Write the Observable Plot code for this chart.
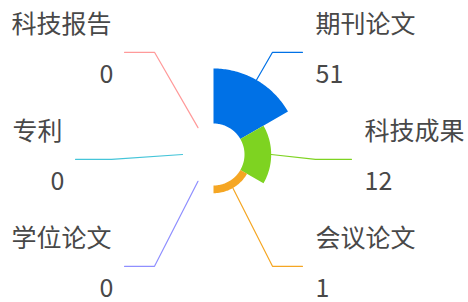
<!DOCTYPE html>
<html><head><meta charset="utf-8">
<script src="https://cdn.jsdelivr.net/npm/d3@7"></script>
<script src="https://cdn.jsdelivr.net/npm/@observablehq/plot@0.6"></script>
<style>body{margin:0;background:#fff}</style>
</head><body><div id="chart"></div>
<script>
// ---- data ----
const categories = ["期刊论文", "科技成果", "会议论文", "学位论文", "专利", "科技报告"];
const values = [51, 12, 1, 0, 0, 0];
const colors = ["#0071e6", "#7ed321", "#f5a623", "#8f8fff", "#45c5d9", "#ff9a9a"];

// ---- layout ----
const W = 468, H = 302;
const CX = 213, CY = 154;          // centre in pixels
const R0 = 31, R1 = 86;            // inner / max outer radius
const ELBOW_R = 118, LEN2 = 30, MIN_GAP = 107;

const angle = d3.scaleBand().domain(categories).range([0, 2 * Math.PI]).padding(0);
const radius = d3.scaleSqrt().domain([0, d3.max(values)]).range([R0, R1]);

const rows = categories.map((name, i) => ({name, value: values[i]}));

// sector polygons (data space: origin at centre, y up)
const sectorPts = [];
rows.forEach(d => {
  if (d.value <= 0) return;
  const a0 = angle(d.name), a1 = a0 + angle.bandwidth(), r = radius(d.value), n = 60;
  for (let k = 0; k <= n; k++) {
    const a = a0 + (a1 - a0) * k / n;
    sectorPts.push({name: d.name, x: r * Math.sin(a), y: r * Math.cos(a)});
  }
  for (let k = n; k >= 0; k--) {
    const a = a0 + (a1 - a0) * k / n;
    sectorPts.push({name: d.name, x: R0 * Math.sin(a), y: R0 * Math.cos(a)});
  }
});

// label placement
const labels = rows.map(d => {
  const t = angle(d.name) + angle.bandwidth() / 2;
  const s = Math.sin(t), c = Math.cos(t);
  const side = s >= 0 ? 1 : -1;
  return {...d, t, side, r: radius(d.value), yDown: -ELBOW_R * c};
});
for (const side of [1, -1]) {
  const grp = labels.filter(l => l.side === side).sort((a, b) => a.yDown - b.yDown);
  for (let i = 1; i < grp.length; i++) grp[i].yDown = Math.max(grp[i].yDown, grp[i - 1].yDown + MIN_GAP);
}
const linePts = [];
labels.forEach(l => {
  const s = Math.sin(l.t), c = Math.cos(l.t);
  const horiz = Math.abs(s) > 0.99;
  const elbowDx = horiz ? 102 : ELBOW_R * Math.abs(s);
  const endDx = horiz ? 138 : elbowDx + LEN2;
  const y = -l.yDown;
  l.ex = l.side * endDx; l.ey = y;
  linePts.push({name: l.name, x: l.r * s, y: l.r * c});
  linePts.push({name: l.name, x: l.side * elbowDx, y});
  linePts.push({name: l.name, x: l.side * endDx, y});
});

const font = {fontFamily: "'Noto Sans CJK SC', 'Noto Sans', sans-serif", fontSize: 25, fill: "#484848"};

const chart = Plot.plot({
  width: W, height: H,
  margin: 0,
  x: {domain: [-CX, W - CX], axis: null},
  y: {domain: [-(H - CY), CY], axis: null},
  color: {domain: categories, range: colors},
  style: {background: "#fff", overflow: "visible"},
  marks: [
    Plot.line(sectorPts, {x: "x", y: "y", z: "name", fill: "name", stroke: "none", curve: "linear"}),
    Plot.line(linePts, {x: "x", y: "y", z: "name", stroke: "name", strokeWidth: 1.2, curve: "linear"}),
    Plot.text(labels, {filter: d => d.side > 0, x: "ex", y: "ey", text: "name", textAnchor: "start", dx: 13, dy: -27, lineAnchor: "middle", letterSpacing: 1, ...font}),
    Plot.text(labels, {filter: d => d.side > 0, x: "ex", y: "ey", text: d => String(d.value), textAnchor: "start", dx: 13, dy: 23, lineAnchor: "middle", ...font}),
    Plot.text(labels, {filter: d => d.side < 0, x: "ex", y: "ey", text: "name", textAnchor: "end", dx: -13, dy: -27, lineAnchor: "middle", letterSpacing: 1, ...font}),
    Plot.text(labels, {filter: d => d.side < 0, x: "ex", y: "ey", text: d => String(d.value), textAnchor: "end", dx: -11, dy: 23, lineAnchor: "middle", ...font})
  ]
});
document.getElementById("chart").appendChild(chart);
</script>
</body></html>
